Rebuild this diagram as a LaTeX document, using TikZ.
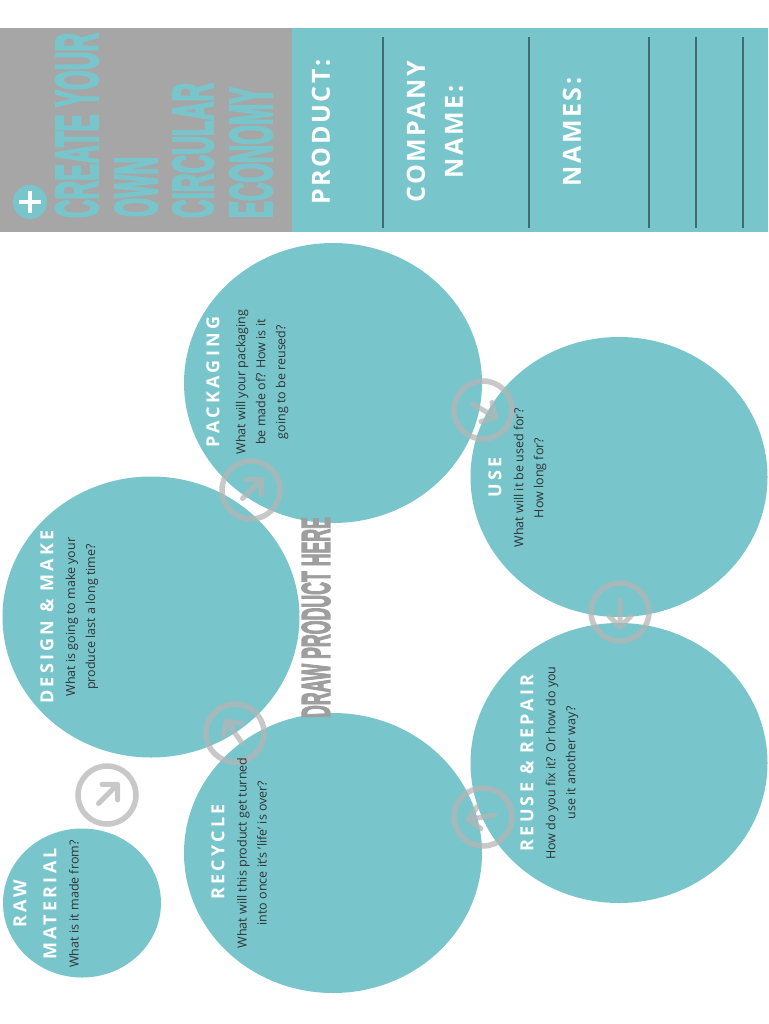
\documentclass[tikz,border=0pt]{standalone}
\usepackage{fontspec}
\usepackage{graphicx}
\usetikzlibrary{shapes.geometric}
\setmainfont{Open Sans}
\newfontfamily\spacedfont[LetterSpace=18]{Open Sans}
\newfontfamily\bandfont[LetterSpace=10]{Open Sans}
\newfontfamily\condfont[BoldFeatures={FakeBold=4}]{Liberation Sans}
\definecolor{teal1}{RGB}{120,198,204}
\definecolor{greyband}{RGB}{166,166,166}
\definecolor{lineteal}{RGB}{62,108,112}
\definecolor{subtxt}{RGB}{50,50,50}
\definecolor{ringgrey}{RGB}{181,181,181}
\definecolor{drawgrey}{RGB}{158,158,158}
\newcommand\ringarrow[2]{%
  \begin{scope}[shift={(#1.center)}, rotate=#2]
    \draw[arrowline] (-12,0) -- (15,0) (4,-11) -- (15,0) -- (4,11);
  \end{scope}}
\begin{document}
\begin{tikzpicture}[x=1pt,y=-1pt,
  bubble/.style={ellipse, fill=teal1, inner sep=0pt},
  ringicon/.style={circle, draw=ringgrey, line width=5.5pt, minimum size=58pt, inner sep=0pt, draw opacity=0.74},
  arrowline/.style={draw=ringgrey, line width=5pt, line cap=round, line join=round, draw opacity=0.74},
  ctitle/.style={rotate=90, inner sep=0pt, text=white, align=center, font=\spacedfont\bfseries\fontsize{18}{30}\selectfont},
  csub/.style={rotate=90, inner sep=0pt, text=subtxt, align=center, font=\fontsize{12.5}{20}\selectfont},
  bandtxt/.style={rotate=90, inner sep=0pt, text=white, align=center, font=\bandfont\bfseries\fontsize{25}{38}\selectfont},
  bigtitle/.style={rotate=90, inner sep=0pt, text=teal1, font=\condfont\bfseries},
  divider/.style={draw=lineteal, line width=1.5pt}
]
\useasboundingbox (0,0) rectangle (768,1024);
\fill[white] (0,0) rectangle (768,1024);

% header band
\node[rectangle, fill=greyband, minimum width=292pt, minimum height=204pt, anchor=north west, inner sep=0pt] (greyb) at (0,28) {};
\node[rectangle, fill=teal1, minimum width=476pt, minimum height=204pt, anchor=north west, inner sep=0pt] (tealb) at (292,28) {};
\foreach \xx in {383,529,649,696,743} { \draw[divider] (\xx,37) -- (\xx,228); }

\node[bigtitle] (t1) at (77,125.5) {\resizebox{185pt}{42pt}{CREATE YOUR}};
\node[bigtitle] (t2) at (136,187) {\resizebox{60pt}{42pt}{OWN}};
\node[bigtitle] (t3) at (193,150.5) {\resizebox{135pt}{40pt}{CIRCULAR}};
\node[bigtitle] (t4) at (251,152.5) {\resizebox{131pt}{42pt}{ECONOMY}};
\node[circle, fill=teal1, minimum size=34pt, inner sep=0pt] (plus) at (30,202) {};
\draw[white, line width=4pt] ([yshift=-11pt]plus.center) -- ([yshift=11pt]plus.center)
  ([xshift=-11pt]plus.center) -- ([xshift=11pt]plus.center);

\node[bandtxt] (product) at (321,132) {PRODUCT:};
\node[bandtxt] (company) at (435,132) {COMPANY\\NAME:};
\node[bandtxt] (names) at (572,132) {NAMES:};

% circles
\node[bubble, minimum width=298pt, minimum height=280pt] (pack) at (333,383) {};
\node[bubble, minimum width=297pt, minimum height=280pt] (use) at (619,477) {};
\node[bubble, minimum width=297pt, minimum height=281pt] (design) at (151,617) {};
\node[bubble, minimum width=297pt, minimum height=280pt] (reuse) at (619,763) {};
\node[bubble, minimum width=298pt, minimum height=280pt] (recycle) at (333,853) {};
\node[bubble, minimum width=158pt, minimum height=149pt] (raw) at (82,903) {};

% draw product here
\node[rotate=90, inner sep=0pt, text=drawgrey, font=\condfont\bfseries] (drawhere) at (316,617.5) {\resizebox{201pt}{28pt}{DRAW PRODUCT HERE}};

% arrow rings
\node[ringicon] (r1) at (107,795) {};
\node[ringicon] (r2) at (251,490) {};
\node[ringicon] (r3) at (483,410) {};
\node[ringicon] (r4) at (620,612) {};
\node[ringicon] (r5) at (483,817) {};
\node[ringicon] (r6) at (235,733) {};
\ringarrow{r1}{45}
\ringarrow{r2}{45}
\ringarrow{r3}{-30}
\ringarrow{r4}{-90}
\ringarrow{r5}{190}
\ringarrow{r6}{125}

% circle texts
\node[ctitle] (packt) at (213,382) {PACKAGING};
\node[csub] (packs) at (262,382) {What will your packaging\\be made of? How is it\\going to be reused?};
\node[ctitle] (uset) at (495,477) {USE};
\node[csub] (uses) at (530,478) {What will it be used for?\\How long for?};
\node[ctitle] (designt) at (47,617) {DESIGN \& MAKE};
\node[csub] (designs) at (82,617) {What is going to make your\\produce last a long time?};
\node[ctitle] (reuset) at (527,763) {REUSE \& REPAIR};
\node[csub] (reuses) at (562,763) {How do you fix it? Or how do you\\use it another way?};
\node[ctitle] (recyclet) at (218,852) {RECYCLE};
\node[csub] (recycles) at (252,853) {What will this product get turned\\into once it's 'life' is over?};
\node[ctitle] (rawt) at (35,904) {RAW\\MATERIAL};
\node[csub] (raws) at (74,904) {What is it made from?};
\end{tikzpicture}
\end{document}
